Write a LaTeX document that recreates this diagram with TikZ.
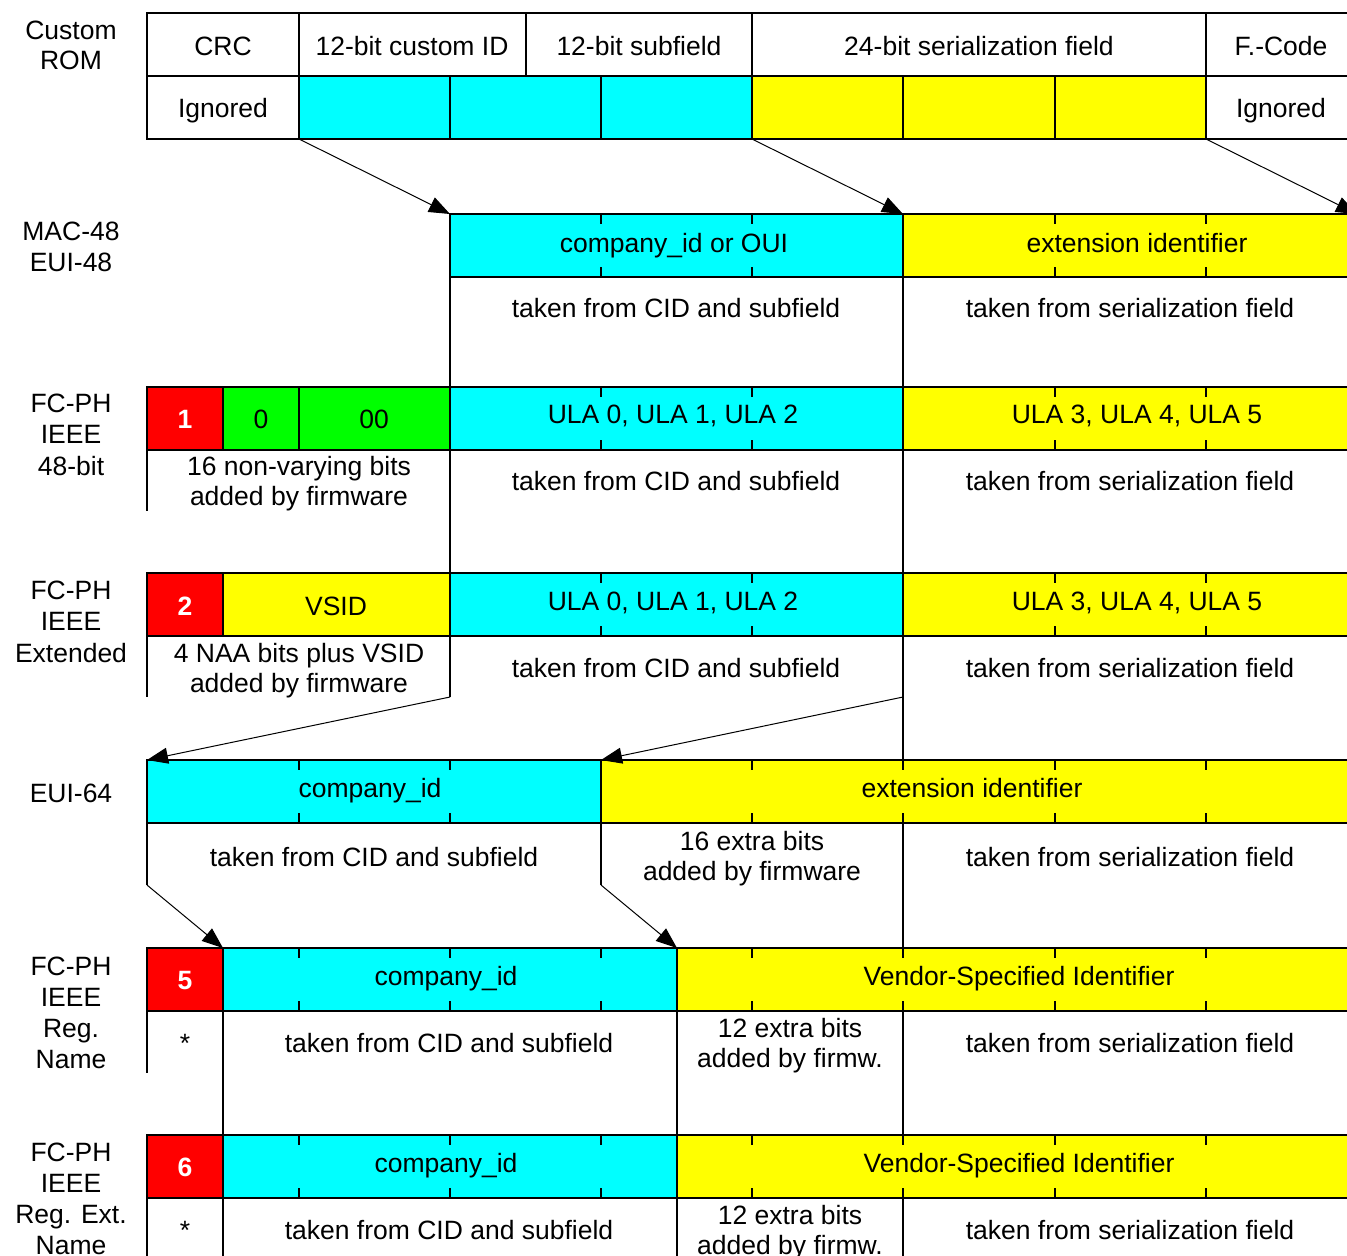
\documentclass[tikz,border=0pt]{standalone}
\usepackage{fontspec}
\setmainfont{Liberation Sans}
\usetikzlibrary{arrows.meta}
\definecolor{cy}{RGB}{0,255,255}
\definecolor{ye}{RGB}{255,255,0}
\definecolor{rd}{RGB}{255,0,0}
\definecolor{gr}{RGB}{0,255,0}
\newcommand\cellbox[5]{\filldraw[cell,fill=#5] (#1,#3) rectangle (#2,#4);}
\newcommand\tickrow[3]{\foreach \xx in {#3} {\draw[tickmark] (\xx,#1) -- ++(0,10) (\xx,#2) -- ++(0,-10);}}
\begin{document}
\begin{tikzpicture}[x=0.5pt,y=-0.5pt,
  cell/.style={draw=black,line width=1pt},
  tickmark/.style={line width=1pt},
  conn/.style={line width=1pt},
  arr/.style={line width=0.5pt,-{Triangle[length=10.5pt,width=8pt]}},
  lbl/.style={anchor=base,inner sep=0pt,font=\fontsize{13.25}{15.5}\selectfont},
  num/.style={lbl,text=white,font=\fontsize{13.25}{15.5}\selectfont\bfseries}]
\useasboundingbox (0,0) rectangle (1347,1255);
\clip (0,0) rectangle (1347,1255);

% ---------- Custom ROM ----------
\cellbox{147}{299}{13}{76}{white}
\cellbox{299}{526}{13}{76}{white}
\cellbox{526}{752}{13}{76}{white}
\cellbox{752}{1206}{13}{76}{white}
\cellbox{1206}{1370}{13}{76}{white}
\cellbox{147}{299}{76}{139}{white}
\cellbox{299}{450}{76}{139}{cy}
\cellbox{450}{601}{76}{139}{cy}
\cellbox{601}{752}{76}{139}{cy}
\cellbox{752}{903}{76}{139}{ye}
\cellbox{903}{1055}{76}{139}{ye}
\cellbox{1055}{1206}{76}{139}{ye}
\cellbox{1206}{1370}{76}{139}{white}

% ---------- MAC-48 ----------
\cellbox{450}{903}{214}{277}{cy}
\cellbox{903}{1370}{214}{277}{ye}
\tickrow{214}{277}{601,752,1055,1206}

% ---------- FC-PH 48-bit ----------
\cellbox{147}{223}{387}{450}{rd}
\cellbox{223}{299}{387}{450}{gr}
\cellbox{299}{450}{387}{450}{gr}
\cellbox{450}{903}{387}{450}{cy}
\cellbox{903}{1370}{387}{450}{ye}
\tickrow{387}{450}{601,752,1055,1206}

% ---------- FC-PH Extended ----------
\cellbox{147}{223}{573}{636}{rd}
\cellbox{223}{450}{573}{636}{ye}
\cellbox{450}{903}{573}{636}{cy}
\cellbox{903}{1370}{573}{636}{ye}
\tickrow{573}{636}{601,752,1055,1206}

% ---------- EUI-64 ----------
\cellbox{147}{601}{760}{823}{cy}
\cellbox{601}{1370}{760}{823}{ye}
\tickrow{760}{823}{299,450,752,903,1055,1206}

% ---------- FC-PH Reg. Name ----------
\cellbox{147}{223}{948}{1011}{rd}
\cellbox{223}{677}{948}{1011}{cy}
\cellbox{677}{1370}{948}{1011}{ye}
\tickrow{948}{1011}{299,450,601,752,903,1055,1206}

% ---------- FC-PH Reg. Ext. Name ----------
\cellbox{147}{223}{1135}{1198}{rd}
\cellbox{223}{677}{1135}{1198}{cy}
\cellbox{677}{1370}{1135}{1198}{ye}
\tickrow{1135}{1198}{299,450,601,752,903,1055,1206}

% ---------- vertical separators ----------
\draw[conn] (450,277) -- (450,387) (450,450) -- (450,573) (450,636) -- (450,697);
\draw[conn] (903,277) -- (903,387) (903,450) -- (903,573) (903,636) -- (903,760)
            (903,823) -- (903,948) (903,1011) -- (903,1135) (903,1198) -- (903,1260);
\draw[conn] (147,450) -- (147,511) (147,636) -- (147,697) (147,823) -- (147,885)
            (147,1011) -- (147,1073) (147,1198) -- (147,1260);
\draw[conn] (601,823) -- (601,885);
\draw[conn] (223,1011) -- (223,1135) (223,1198) -- (223,1260);
\draw[conn] (677,1011) -- (677,1135) (677,1198) -- (677,1260);

% ---------- arrows ----------
\coordinate (s1) at (299,139); \coordinate (e1) at (450,214);
\coordinate (s2) at (752,139); \coordinate (e2) at (903,214);
\coordinate (s3) at (1206,139); \coordinate (e3) at (1357,214);
\coordinate (s4) at (450,697); \coordinate (e4) at (147,760);
\coordinate (s5) at (903,697); \coordinate (e5) at (601,760);
\coordinate (s6) at (147,885); \coordinate (e6) at (223,948);
\coordinate (s7) at (601,885); \coordinate (e7) at (677,948);
\foreach \i in {1,...,7} {\draw[arr] (s\i) -- (e\i);}

% ---------- left labels ----------
\node[lbl] (l1a) at (71,39) {Custom};
\node[lbl] (l1b) at (71,69) {ROM};
\node[lbl] (l2a) at (71,240) {MAC-48};
\node[lbl] (l2b) at (71,271) {EUI-48};
\node[lbl] (l3a) at (71,412) {FC-PH};
\node[lbl] (l3b) at (71,443) {IEEE};
\node[lbl] (l3c) at (71,475) {48-bit};
\node[lbl] (l4a) at (71,599) {FC-PH};
\node[lbl] (l4b) at (71,630) {IEEE};
\node[lbl] (l4c) at (71,662) {Extended};
\node[lbl] (l5a) at (71,802) {EUI-64};
\node[lbl] (l6a) at (71,975) {FC-PH};
\node[lbl] (l6b) at (71,1006) {IEEE};
\node[lbl] (l6c) at (71,1037) {Reg.};
\node[lbl] (l6d) at (71,1068) {Name};
\node[lbl] (l7a) at (71,1161) {FC-PH};
\node[lbl] (l7b) at (71,1192) {IEEE};
\node[lbl] (l7c) at (71,1223) {Reg. Ext.};
\node[lbl] (l7d) at (71,1254) {Name};

% ---------- ROM texts ----------
\node[lbl] (crc) at (223,55) {CRC};
\node[lbl] (cid) at (412,55) {12-bit custom ID};
\node[lbl] (sbf) at (639,55) {12-bit subfield};
\node[lbl] (ser) at (979,55) {24-bit serialization field};
\node[lbl] (fcd) at (1281,55) {F.-Code};
\node[lbl] (ig1) at (223,117) {Ignored};
\node[lbl] (ig2) at (1281,117) {Ignored};

% ---------- MAC-48 texts ----------
\node[lbl] (m1) at (674,252) {company\_id or OUI};
\node[lbl] (m2) at (1137,252) {extension identifier};
\node[lbl] (m3) at (676,317) {taken from CID and subfield};
\node[lbl] (m4) at (1130,317) {taken from serialization field};

% ---------- FC-PH 48-bit texts ----------
\node[num] (n1) at (185,428) {1};
\node[lbl] (f1) at (261,428) {0};
\node[lbl] (f2) at (374,428) {00};
\node[lbl] (f3) at (673,423) {ULA 0, ULA 1, ULA 2};
\node[lbl] (f4) at (1137,423) {ULA 3, ULA 4, ULA 5};
\node[lbl] (f5) at (299,475) {16 non-varying bits};
\node[lbl] (f6) at (299,505) {added by firmware};
\node[lbl] (f7) at (676,490) {taken from CID and subfield};
\node[lbl] (f8) at (1130,490) {taken from serialization field};

% ---------- FC-PH Extended texts ----------
\node[num] (n2) at (185,615) {2};
\node[lbl] (x1) at (336,615) {VSID};
\node[lbl] (x2) at (673,610) {ULA 0, ULA 1, ULA 2};
\node[lbl] (x3) at (1137,610) {ULA 3, ULA 4, ULA 5};
\node[lbl] (x4) at (299,662) {4 NAA bits plus VSID};
\node[lbl] (x5) at (299,692) {added by firmware};
\node[lbl] (x6) at (676,677) {taken from CID and subfield};
\node[lbl] (x7) at (1130,677) {taken from serialization field};

% ---------- EUI-64 texts ----------
\node[lbl] (u1) at (370,797) {company\_id};
\node[lbl] (u2) at (972,797) {extension identifier};
\node[lbl] (u3) at (374,866) {taken from CID and subfield};
\node[lbl] (u4) at (752,850) {16 extra bits};
\node[lbl] (u5) at (752,880) {added by firmware};
\node[lbl] (u6) at (1130,866) {taken from serialization field};

% ---------- Reg. Name texts ----------
\node[num] (n5) at (185,989) {5};
\node[lbl] (r1) at (446,985) {company\_id};
\node[lbl] (r2) at (1019,985) {Vendor-Specified Identifier};
\node[lbl] (r3) at (185,1052) {*};
\node[lbl] (r4) at (449,1052) {taken from CID and subfield};
\node[lbl] (r5) at (790,1037) {12 extra bits};
\node[lbl] (r6) at (790,1067) {added by firmw.};
\node[lbl] (r7) at (1130,1052) {taken from serialization field};

% ---------- Reg. Ext. Name texts ----------
\node[num] (n6) at (185,1176) {6};
\node[lbl] (q1) at (446,1172) {company\_id};
\node[lbl] (q2) at (1019,1172) {Vendor-Specified Identifier};
\node[lbl] (q3) at (185,1239) {*};
\node[lbl] (q4) at (449,1239) {taken from CID and subfield};
\node[lbl] (q5) at (790,1224) {12 extra bits};
\node[lbl] (q6) at (790,1254) {added by firmw.};
\node[lbl] (q7) at (1130,1239) {taken from serialization field};
\end{tikzpicture}
\end{document}
